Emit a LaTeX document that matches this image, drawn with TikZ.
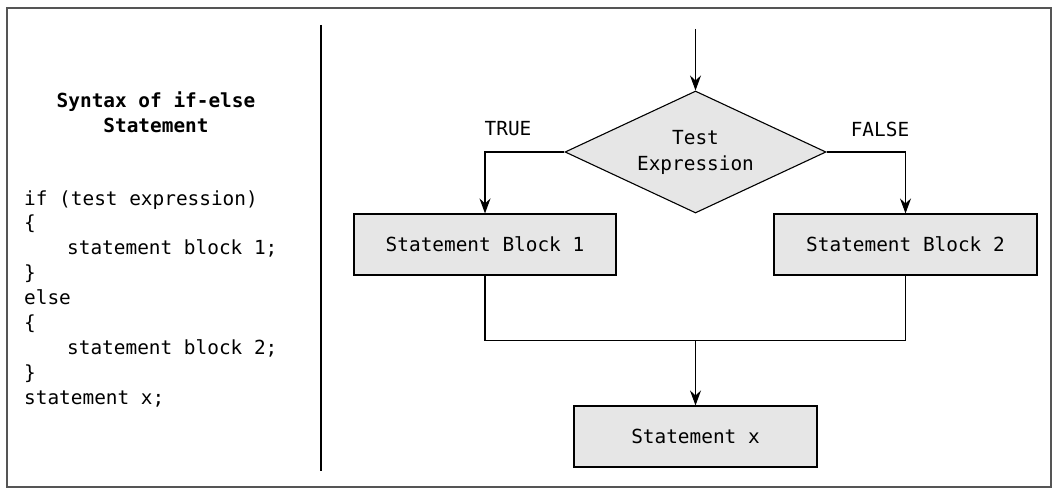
\documentclass[tikz,border=0pt]{standalone}
\usepackage{fontspec}
\setmonofont{DejaVu Sans Mono}
\usetikzlibrary{shapes.geometric,arrows.meta}
\definecolor{framegray}{RGB}{85,85,85}
\definecolor{boxgray}{RGB}{230,230,230}
\newcommand\cfont{\ttfamily\fontsize{19.4}{24.9}\selectfont}
\newcommand\dfont{\ttfamily\fontsize{19.4}{26}\selectfont}
\begin{document}
\begin{tikzpicture}[x=1pt,y=-1pt,
  codeline/.style={anchor=base west, inner sep=0pt, font=\cfont},
  stmtbox/.style={draw=black, fill=boxgray, line width=1.1pt, inner sep=0pt, font=\cfont},
  decision/.style={diamond, draw=black, fill=boxgray, line width=1.1pt, inner sep=0pt,
    minimum width=261pt, minimum height=122pt, aspect=2.14, align=center, font=\dfont},
  lbl/.style={inner sep=0pt, font=\cfont},
  conn/.style={draw=black, line width=1.1pt},
  arr/.style={conn, -{Stealth[length=15pt,width=11pt,inset=5pt]}}]
\useasboundingbox (0,0) rectangle (1054,489);
% frame and divider
\draw[framegray, line width=1.6pt] (7,8) rectangle (1051,487);
\coordinate (dtop) at (321,25);
\coordinate (dbot) at (321,471);
\draw[black, line width=1.1pt] (dtop) -- (dbot);
% left column
\node[inner sep=0pt, align=center, font=\cfont\bfseries] (title) at (156,112.5) {Syntax of if-else\\Statement};
\node[codeline] (c1) at (24,205) {if (test expression)};
\node[codeline] (c2) at (24,229.9) {\{};
\node[codeline] (c3) at (67,254.8) {statement block 1;};
\node[codeline] (c4) at (24,279.7) {\}};
\node[codeline] (c5) at (24,304.6) {else};
\node[codeline] (c6) at (24,329.5) {\{};
\node[codeline] (c7) at (67,354.4) {statement block 2;};
\node[codeline] (c8) at (24,379.3) {\}};
\node[codeline] (c9) at (24,404.2) {statement x;};
% flowchart
\coordinate (start) at (695.5,29);
\node[decision] (test) at (695.5,152) {Test\\Expression};
\node[lbl] (true) at (508,129) {TRUE};
\node[lbl] (false) at (880,129) {FALSE};
\node[stmtbox, minimum width=262pt, minimum height=61pt] (b1) at (485,244.5) {Statement Block 1};
\node[stmtbox, minimum width=263pt, minimum height=61pt] (b2) at (905.5,244.5) {Statement Block 2};
\node[stmtbox, minimum width=243pt, minimum height=61pt] (bx) at (695.5,436.5) {Statement x};
\coordinate (mL) at (485,340.5);
\coordinate (mR) at (905.5,340.5);
\coordinate (mX) at (695.5,340.5);
\draw[arr] (start) -- (test.north);
\draw[arr] (test.west) -| (b1.north);
\draw[arr] (test.east) -| (b2.north);
\draw[conn] (b1.south) -- (mL) -- (mR) -- (b2.south);
\draw[arr] (mX) -- (bx.north);
\end{tikzpicture}
\end{document}
